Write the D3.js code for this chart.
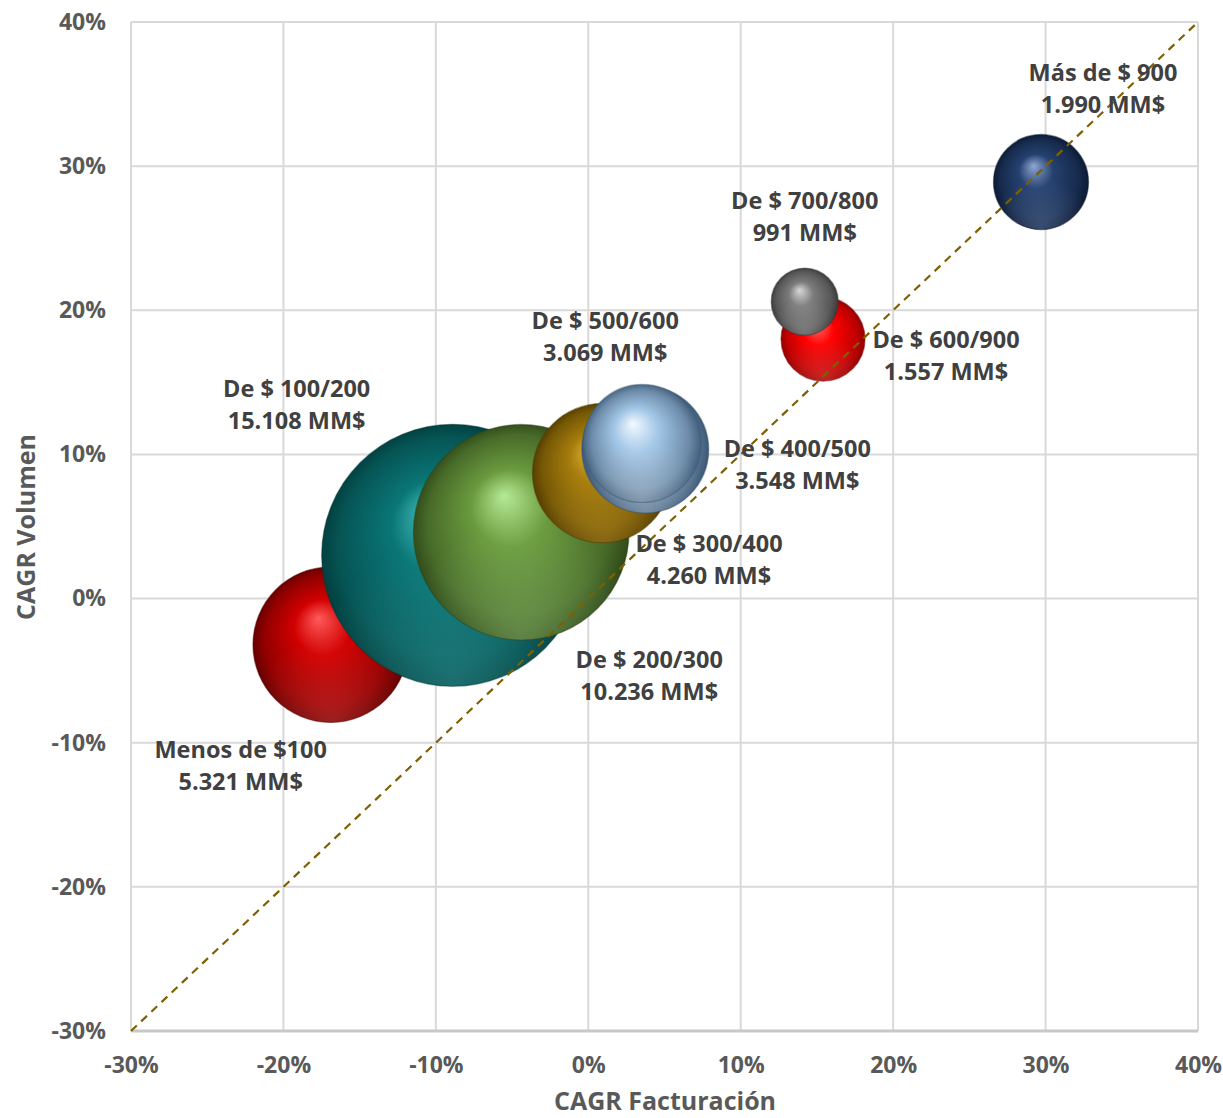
<!DOCTYPE html>
<html>
<head>
<meta charset="utf-8">
<script src="https://cdn.jsdelivr.net/npm/d3@7"></script>
<style>
  html, body { margin: 0; padding: 0; background: #ffffff; }
  svg { display: block; }
  text { font-family: "Open Sans", "Noto Sans", sans-serif; font-weight: 700; }
</style>
</head>
<body>
<div id="chart"></div>
<script>
// Segmentos de precio: crecimiento anual compuesto de facturación vs volumen,
// tamaño de burbuja = facturación en MM$.
const segmentos = ["Menos de $100", "De $ 100/200", "De $ 200/300", "De $ 300/400",
                   "De $ 400/500", "De $ 500/600", "De $ 600/900", "De $ 700/800", "Más de $ 900"];
const cagrFacturacion = [-16.9, -8.9, -4.4, 0.9, 3.74, 3.54, 15.4, 14.2, 29.7];
const cagrVolumen     = [-3.2, 3.0, 4.6, 8.7, 10.34, 10.76, 18.0, 20.6, 28.9];
const facturacionMM   = [5321, 15108, 10236, 4260, 3548, 3069, 1557, 991, 1990];
const xTicks = [-30, -20, -10, 0, 10, 20, 30, 40];
const yTicks = [-30, -20, -10, 0, 10, 20, 30, 40];
const diagonal = [-30, 40];

// Estilo de cada esfera: [brillo, base, sombra]
const colores = [
  ["#ff5a5a", "#d10000", "#5a0000"],
  ["#4cc4c4", "#0a7676", "#023a3a"],
  ["#b6ea96", "#6a9a3e", "#2c4518"],
  ["#e2b43a", "#a57c0c", "#4e3800"],
  ["#e8f2fb", "#94b8d8", "#34506c"],
  ["#f4f9ff", "#a4c8e8", "#3c5874"],
  ["#ff7070", "#ff0000", "#8a0000"],
  ["#d8d8d8", "#7c7c7c", "#363636"],
  ["#8ea6d2", "#24416f", "#0a1730"]
];
// Desplazamiento de cada etiqueta respecto al centro de su burbuja (px)
const etiquetaOffset = [
  [-90, 120], [-156, -151], [128, 143], [107, 86], [152, 14],
  [-37, -107], [123, 16], [0, -86], [62, -94]
];

const W = 1223, H = 1118;
const margin = { left: 131, right: 25, top: 22, bottom: 87 };

const svg = d3.select("#chart").append("svg")
  .attr("width", W).attr("height", H);
svg.append("rect").attr("width", W).attr("height", H).attr("fill", "#ffffff");

const x = d3.scaleLinear().domain([-30, 40]).range([margin.left, W - margin.right]);
const y = d3.scaleLinear().domain([-30, 40]).range([H - margin.bottom, margin.top]);
const r = d3.scaleSqrt().domain([0, 15108]).range([0, 131]);

const fmt = d3.formatLocale({ decimal: ",", thousands: ".", grouping: [3], currency: ["$", ""] }).format(",");
const pct = d => d + "%";

// Rejilla
const grid = svg.append("g");
grid.selectAll("line.v").data(xTicks).join("line")
  .attr("x1", d => x(d)).attr("x2", d => x(d))
  .attr("y1", y(40)).attr("y2", y(-30))
  .attr("stroke", "#d9d9d9").attr("stroke-width", 2);
grid.selectAll("line.h").data(yTicks).join("line")
  .attr("x1", x(-30)).attr("x2", x(40))
  .attr("y1", d => y(d)).attr("y2", d => y(d))
  .attr("stroke", d => d === -30 ? "#c8c8c8" : "#d9d9d9")
  .attr("stroke-width", d => d === -30 ? 3 : 2);

// Ejes (solo etiquetas)
const xAxis = svg.append("g").attr("transform", `translate(0,${y(-30)})`)
  .call(d3.axisBottom(x).tickValues(xTicks).tickFormat(pct).tickSize(0).tickPadding(26));
const yAxis = svg.append("g").attr("transform", `translate(${x(-30)},0)`)
  .call(d3.axisLeft(y).tickValues(yTicks).tickFormat(pct).tickSize(0).tickPadding(25));
[xAxis, yAxis].forEach(a => {
  a.select(".domain").remove();
  a.selectAll("text").attr("fill", "#595959").style("font-size", "23px")
    .style("font-family", "'Open Sans', sans-serif").style("font-weight", 700);
});

svg.append("text").attr("x", 665).attr("y", 1110)
  .attr("text-anchor", "middle").attr("fill", "#595959").style("font-size", "25px")
  .text("CAGR Facturación");
svg.append("text").attr("transform", `translate(35,527) rotate(-90)`)
  .attr("text-anchor", "middle").attr("fill", "#595959").style("font-size", "25px")
  .text("CAGR Volumen");

// Gradientes esféricos
const defs = svg.append("defs");
colores.forEach((c, i) => {
  const g = defs.append("radialGradient").attr("id", "esfera" + i)
    .attr("cx", "50%").attr("cy", "50%").attr("r", "52%")
    .attr("fx", "42%").attr("fy", "33%");
  g.append("stop").attr("offset", "0%").attr("stop-color", c[0]);
  g.append("stop").attr("offset", "35%").attr("stop-color", c[1]);
  g.append("stop").attr("offset", "80%").attr("stop-color", d3.interpolateRgb(c[1], c[2])(0.55));
  g.append("stop").attr("offset", "100%").attr("stop-color", c[2]);
  const h = defs.append("radialGradient").attr("id", "reflejo" + i)
    .attr("cx", "50%").attr("cy", "100%").attr("r", "55%");
  h.append("stop").attr("offset", "0%").attr("stop-color", c[0]).attr("stop-opacity", 0.35);
  h.append("stop").attr("offset", "100%").attr("stop-color", c[0]).attr("stop-opacity", 0);
});

const datos = segmentos.map((s, i) => ({
  s, i, fx: cagrFacturacion[i], vol: cagrVolumen[i], mm: facturacionMM[i]
}));

const burbujas = svg.append("g").selectAll("g").data(datos).join("g");
burbujas.append("circle")
  .attr("cx", d => x(d.fx)).attr("cy", d => y(d.vol)).attr("r", d => r(d.mm))
  .attr("fill", d => `url(#esfera${d.i})`);
burbujas.append("circle")
  .attr("cx", d => x(d.fx)).attr("cy", d => y(d.vol)).attr("r", d => r(d.mm))
  .attr("fill", d => `url(#reflejo${d.i})`)
  .attr("stroke", d => colores[d.i][2]).attr("stroke-opacity", 0.45).attr("stroke-width", 1.2);

// Línea de referencia 45°
svg.append("line")
  .attr("x1", x(diagonal[0])).attr("y1", y(diagonal[0]))
  .attr("x2", x(diagonal[1])).attr("y2", y(diagonal[1]))
  .attr("stroke", "#7f6000").attr("stroke-width", 2.2).attr("stroke-dasharray", "8,6");

// Etiquetas
const etiquetas = svg.append("g").selectAll("text").data(datos).join("text")
  .attr("text-anchor", "middle").attr("fill", "#404040").style("font-size", "23.5px")
  .attr("transform", d => `translate(${x(d.fx) + etiquetaOffset[d.i][0]},${y(d.vol) + etiquetaOffset[d.i][1]})`);
etiquetas.append("tspan").attr("x", 0).attr("y", -7).text(d => d.s);
etiquetas.append("tspan").attr("x", 0).attr("y", 25).text(d => fmt(d.mm) + " MM$");
</script>
</body>
</html>
